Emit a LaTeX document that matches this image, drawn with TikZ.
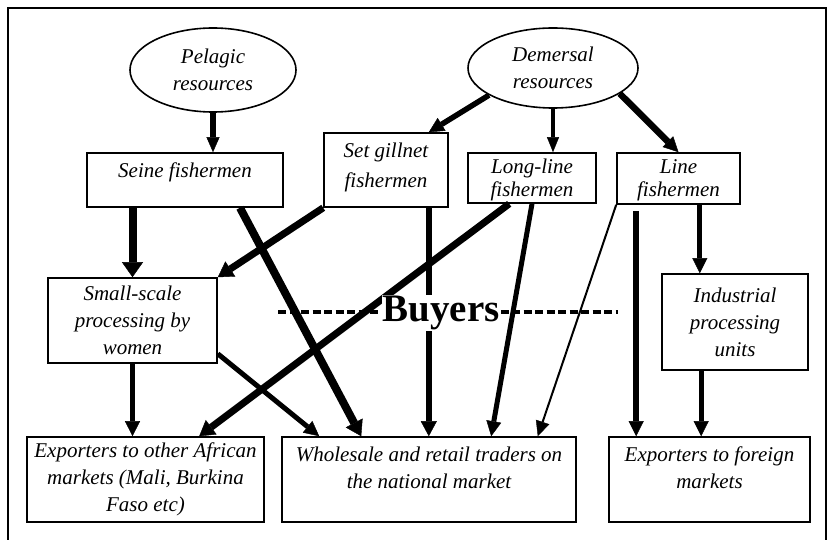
\documentclass[tikz,border=0pt]{standalone}
\usepackage{fontspec}
\setmainfont{Liberation Serif}
\usetikzlibrary{arrows.meta,calc,shapes.geometric}
\newcommand\boxtop[3]{\parbox[c][#2][t]{#1}{\centering\vspace*{10pt}#3}}
\newcommand\boxmid[3]{\parbox[c][#2][c]{#1}{\centering #3}}
\begin{document}
\begin{tikzpicture}[x=1pt,y=-1pt,
  every node/.style={font=\fontsize{21}{27}\selectfont\itshape, inner sep=0pt},
  bx/.style={draw, line width=1.6pt, fill=white},
  ell/.style={draw, line width=1.6pt, ellipse, fill=white},
  arr/.style 2 args={line width=#1, -{Triangle[length=15pt,width=#2,line width=0.4pt]}},
  dsh/.style={line width=4.5pt, dash pattern=on 8pt off 3.5pt}]
\useasboundingbox (0,0) rectangle (828,540);
\fill[white] (0,0) rectangle (828,540);
\draw[line width=1.8pt] (8,8) rectangle (826,600);

% ellipses
\node[ell, minimum width=166pt, minimum height=84pt, align=center] (pel) at (213,70) {Pelagic\\resources};
\node[ell, minimum width=170pt, minimum height=80pt, align=center] (dem) at (553,68) {Demersal\\resources};

% boxes
\node[bx] (seine) at (185,180) {\boxtop{196pt}{54pt}{Seine fishermen}};
\node[bx] (set) at (386,170) {\boxtop{124pt}{74pt}{\fontsize{21}{30}\selectfont Set gillnet\\fishermen}};
\node[bx] (long) at (532,178) {\boxmid{128pt}{50pt}{\fontsize{21}{23}\selectfont\vspace*{3pt}Long-line\\fishermen}};
\node[bx] (line) at (678.5,178.5) {\boxmid{123pt}{51pt}{\fontsize{21}{23}\selectfont\vspace*{3pt}Line\\fishermen}};
\node[bx] (small) at (132.5,320.5) {\boxmid{169pt}{85pt}{Small-scale\\processing by\\women}};
\node[bx] (ind) at (735,322) {\boxmid{146pt}{96pt}{Industrial\\processing\\units}};
\node[bx] (afr) at (145.5,479.5) {\boxmid{237pt}{85pt}{Exporters to other African\\markets (Mali, Burkina\\Faso etc)}};
\node[bx] (whole) at (429,479.5) {\boxtop{294pt}{85pt}{Wholesale and retail traders on\\the national market}};
\node[bx] (for) at (709.5,479.5) {\boxtop{201pt}{85pt}{Exporters to foreign\\markets}};

% dashes of the Buyers line
\coordinate (dl) at (278,312);
\coordinate (dr) at (618,312);
\node[font=\fontsize{39}{40}\selectfont\bfseries, fill=white, inner xsep=1pt, inner ysep=1pt, anchor=base] (buy) at (441,322) {Buyers};
\draw[dsh] (dl) -- (dl -| buy.west);
\draw[dsh] (buy.east |- dr) -- (dr);

% helper coordinates for arrow ends
\coordinate (s1) at ($(set.south east)+(-20,0)$);
\coordinate (s2) at ($(line.south west)+(20,6)$);
\coordinate (s3) at ($(line.south east)+(-41,0)$);
\coordinate (s4) at ($(ind.south west)+(40,0)$);

% arrows
\draw[arr={5.5pt}{13pt}] (pel.south) -- (pel.south |- seine.north);
\draw[arr={5.5pt}{15pt}] (dem.203) -- ($(set.north east)+(-20,0)$);
\draw[arr={4.5pt}{12pt}] (dem.south) -- (dem.south |- long.north);
\draw[arr={6.5pt}{15pt}] (dem.-21) -- (line.north);
\draw[arr={8pt}{21pt}] (small.north |- seine.south) -- (small.north);
\draw[arr={8pt}{19pt}] ($(seine.south)+(55,0)$) -- ($(whole.north west)+(80,0)$);
\draw[arr={7pt}{18pt}] (set.south west) -- (small.north east);
\draw[arr={6pt}{16pt}] (s1) -- (s1 |- whole.north);
\draw[arr={7pt}{18pt}] ($(long.south west)+(42,0)$) -- ($(afr.north west)+(173,0)$);
\draw[arr={5pt}{15pt}] (long.south) -- ($(whole.north west)+(210,0)$);
\draw[arr={2pt}{14pt}] (line.south west) -- ($(whole.north east)+(-39,0)$);
\draw[arr={5.5pt}{15pt}] (s2) -- (s2 |- for.north);
\draw[arr={5pt}{15pt}] (s3) -- (s3 |- ind.north);
\draw[arr={5pt}{15pt}] (s4) -- (s4 |- for.north);
\draw[arr={5pt}{15pt}] (small.south) -- (small.south |- afr.north);
\draw[arr={5pt}{15pt}] ($(small.south east)+(0,-10)$) -- ($(whole.north west)+(38,0)$);

% Buyers text on top
\node[font=\fontsize{39}{40}\selectfont\bfseries, fill=white, inner xsep=1pt, inner ysep=1pt, anchor=base] (buytop) at (buy.base) {Buyers};
\end{tikzpicture}
\end{document}
